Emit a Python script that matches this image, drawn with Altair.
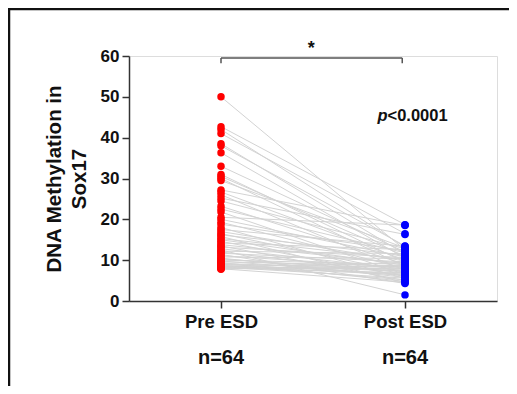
import altair as alt
import pandas as pd

pre_values = [50, 42.7, 42, 41, 38.5, 38, 36.3, 33, 31, 30.5, 30, 29.5, 27.2, 26.7, 26, 25.2,
              24.5, 23.2, 22.5, 21.8, 20.5, 20, 19.3, 18.8, 18, 17.5, 17, 16.5, 16.2, 15.8, 15.3, 15,
              14.6, 14.2, 13.8, 13.5, 13.2, 12.8, 12.5, 12.2, 12, 11.7, 11.4, 11.1, 10.8, 10.5, 10.3, 10,
              9.8, 9.6, 9.4, 9.2, 9, 8.9, 8.8, 8.6, 8.5, 8.4, 8.3, 8.2, 8.1, 8, 7.9, 7.8]
post_values = [12.5, 18.7, 13.2, 16.5, 11.5, 13.5, 10.5, 12, 9.5, 11, 8.5, 13, 18.5, 10, 7.5, 16.3,
               12.8, 9, 11.8, 6.5, 18.6, 10.8, 8, 12.3, 5.5, 13.4, 9.8, 7, 11.2, 4.5, 10.2, 8.8,
               6, 12.6, 9.2, 5, 10.6, 7.8, 1.5, 11.6, 6.8, 9.6, 4.3, 8.2, 10.4, 5.8, 7.2, 9,
               6.2, 8.6, 4.8, 7.6, 6.6, 8.4, 5.2, 7.4, 6.4, 9.4, 5.6, 7.9, 6.9, 8.1, 4.6, 8.7]
groups = ["Pre ESD", "Post ESD"]
group_pos = [0, 1]
n_labels = ["n=64", "n=64"]
y_ticks = [0, 10, 20, 30, 40, 50, 60]

rows = []
for i, (a, b) in enumerate(zip(pre_values, post_values)):
    rows.append({"pair": i, "group": groups[0], "pos": group_pos[0], "value": a})
    rows.append({"pair": i, "group": groups[1], "pos": group_pos[1], "value": b})
df = pd.DataFrame(rows)

FONT = "Liberation Sans"
xscale = alt.Scale(domain=[-0.5, 1.5], nice=False, zero=False)
yscale = alt.Scale(domain=[0, 60], nice=False)

base = alt.Chart(df)

lines = base.mark_line(color="#d3d3d3", strokeWidth=1).encode(
    x=alt.X("pos:Q", scale=xscale,
            axis=alt.Axis(values=group_pos, title=None,
                          labelExpr="datum.value == 0 ? 'Pre ESD' : (datum.value == 1 ? 'Post ESD' : '')",
                          labelFont=FONT, labelFontSize=18.5, labelFontWeight="bold", labelColor="#111",
                          labelPadding=4, tickSize=7, tickColor="#333", tickWidth=1.5,
                          domainColor="#333", domainWidth=1.5, grid=False)),
    y=alt.Y("value:Q", scale=yscale,
            axis=alt.Axis(values=y_ticks, title=["DNA Methylation in", "Sox17"],
                          titleFont=FONT, titleFontSize=20.5, titleFontWeight="bold", titleColor="#111",
                          titleLineHeight=25, titlePadding=11,
                          labelFont=FONT, labelFontSize=17, labelFontWeight="bold", labelColor="#111",
                          labelPadding=3, tickSize=7, tickColor="#333", tickWidth=1.5,
                          domainColor="#333", domainWidth=1.5, grid=False)),
    detail="pair:N",
)

points = base.mark_circle(size=56, opacity=1).encode(
    x=alt.X("pos:Q", scale=xscale),
    y=alt.Y("value:Q", scale=yscale),
    color=alt.Color("group:N", scale=alt.Scale(domain=groups, range=["#ff0000", "#0000ff"]), legend=None),
)

bracket_df = pd.DataFrame({"x": [0], "x2": [0.985], "y": [59.5]})
bracket_h = alt.Chart(bracket_df).mark_rule(color="#555", strokeWidth=1.5).encode(
    x=alt.X("x:Q", scale=xscale), x2="x2:Q", y=alt.Y("y:Q", scale=yscale))
ticks_df = pd.DataFrame({"x": [0, 0.985], "y": [59.5, 59.5], "y2": [58.2, 58.2]})
bracket_v = alt.Chart(ticks_df).mark_rule(color="#555", strokeWidth=1.5).encode(
    x=alt.X("x:Q", scale=xscale), y=alt.Y("y:Q", scale=yscale), y2="y2:Q")

star = alt.Chart(pd.DataFrame({"x": [0.49], "t": ["*"]})).mark_text(
    font=FONT, fontSize=18, fontWeight="bold", color="#111", baseline="middle").encode(
    x=alt.X("x:Q", scale=xscale), y=alt.value(-7), text="t:N")

p_df = pd.DataFrame({"x": [0.905], "y": [45.3], "p": ["p"], "rest": ["<0.0001"]})
p_it = alt.Chart(p_df).mark_text(font=FONT, fontSize=16.5, fontWeight="bold", fontStyle="italic",
                                 color="#111", align="right", baseline="middle").encode(
    x=alt.X("x:Q", scale=xscale), y=alt.Y("y:Q", scale=yscale), text="p:N")
p_rest = alt.Chart(p_df).mark_text(font=FONT, fontSize=16.5, fontWeight="bold",
                                   color="#111", align="left", baseline="middle").encode(
    x=alt.X("x:Q", scale=xscale), y=alt.Y("y:Q", scale=yscale), text="rest:N")

n_df = pd.DataFrame({"pos": group_pos, "n": n_labels, "dx": [6, -4]})
n_text = alt.Chart(n_df).mark_text(font=FONT, fontSize=20, fontWeight="bold", color="#111",
                                   baseline="middle").encode(
    x=alt.X("pos:Q", scale=xscale), y=alt.value(302), text="n:N", xOffset=alt.XOffset("dx:Q", scale=None))

frame_top = alt.Chart(pd.DataFrame({"a": [0]})).mark_rule(color="#111", strokeWidth=2.5).encode(
    x=alt.value(-121), x2=alt.value(420), y=alt.value(-47))
frame_left = alt.Chart(pd.DataFrame({"a": [0]})).mark_rule(color="#111", strokeWidth=2.5).encode(
    x=alt.value(-120), y=alt.value(-48), y2=alt.value(340))

chart = alt.layer(lines, points, bracket_h, bracket_v, star, p_it, p_rest, n_text, frame_top, frame_left).properties(
    width=368, height=245,
    autosize=alt.AutoSizeParams(type="none"),
    padding={"left": 121, "top": 48, "right": 12, "bottom": 85},
).configure_view(stroke=None).configure(background="white")

chart.save("out.html", embed_options={"renderer": "svg", "actions": False})
